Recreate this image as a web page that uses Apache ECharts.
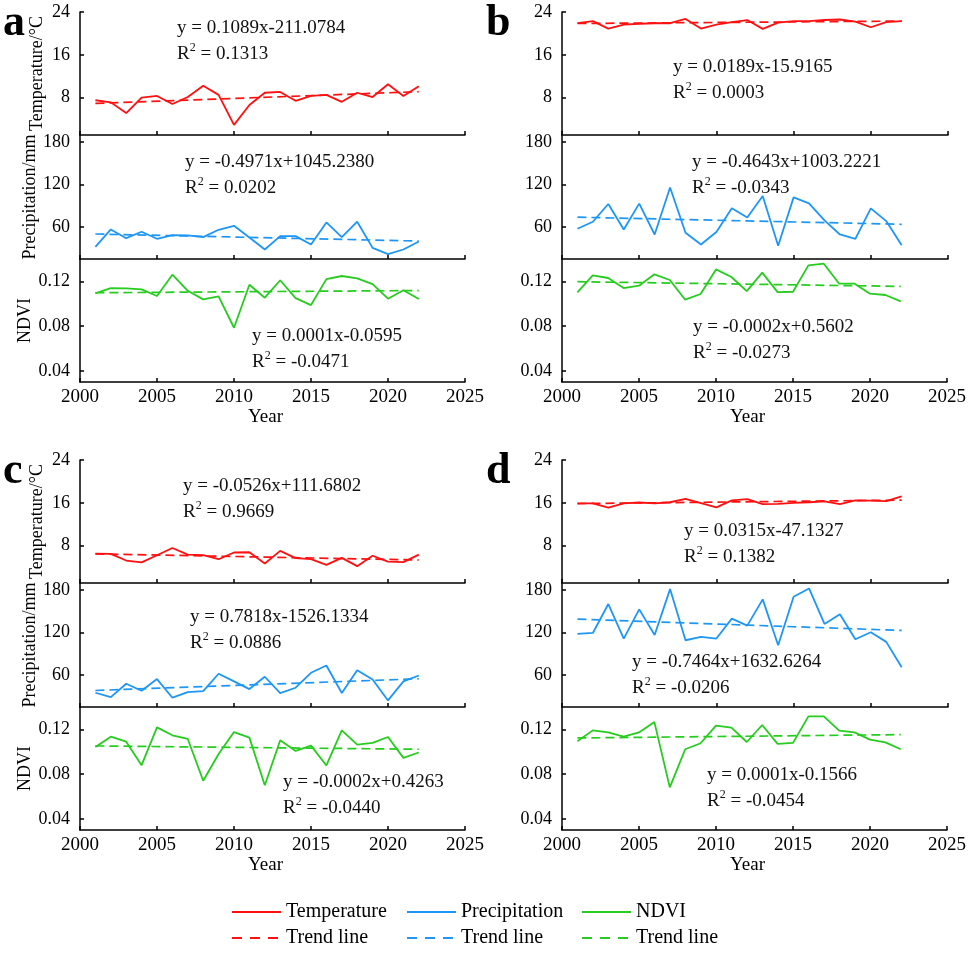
<!DOCTYPE html>
<html><head><meta charset="utf-8">
<script src="https://cdn.jsdelivr.net/npm/echarts@6/dist/echarts.min.js"></script>
<style>html,body{margin:0;padding:0;background:#fff}#c{width:969px;height:954px}</style>
</head><body><div id="c"></div>
<script>
// ---------- DATA ----------
const years = [2001,2002,2003,2004,2005,2006,2007,2008,2009,2010,2011,2012,2013,2014,2015,2016,2017,2018,2019,2020,2021,2022];
const trendYears = [2001, 2022];

const tempA = [7.5,7.1,5.1,8.0,8.3,6.8,8.1,10.2,8.5,2.9,6.6,8.9,9.05,7.4,8.3,8.5,7.2,8.9,8.1,10.5,8.3,10.1];
const precA = [32,56.7,44.4,53.4,43.5,48.7,48.2,45.8,56.2,61.9,45.4,28.4,47.3,47.3,35.5,66.6,45.8,67.6,30.7,21.8,28.4,39.7];
const ndviA = [0.1093,0.114,0.1137,0.1128,0.1069,0.126,0.1116,0.1039,0.1066,0.0785,0.117,0.1054,0.121,0.105,0.0988,0.122,0.1248,0.1227,0.1176,0.1045,0.112,0.1042];

const tempB = [21.9,22.3,20.9,21.65,21.8,21.9,21.9,22.7,20.9,21.65,22.1,22.5,20.85,22.0,22.3,22.3,22.5,22.6,22.2,21.15,22.1,22.3];
const precB = [57.7,67.6,92.6,56.7,93.1,49.6,115.8,52,35.5,53,86.5,73.7,104,33.6,102,93.6,69.5,49.6,43.5,86.5,68.5,34.5];
const ndviB = [0.1101,0.1254,0.123,0.114,0.1161,0.1263,0.1212,0.1036,0.1087,0.1307,0.1239,0.1113,0.1278,0.1104,0.1107,0.1343,0.1358,0.1179,0.1179,0.109,0.1078,0.1021];

const tempC = [6.5,6.45,5.2,4.85,6.2,7.55,6.3,6.2,5.45,6.7,6.75,4.65,7.0,5.65,5.45,4.4,5.7,4.15,6.1,5.0,4.9,6.3];
const precC = [35.1,29.0,47.8,38.0,54.4,28.1,36.1,37.5,61.9,51.1,40.3,57.7,34.7,42.2,63.3,73.6,34.7,67.0,53.9,24.3,51.1,59.5];
const ndviC = [0.1043,0.1135,0.109,0.088,0.1218,0.1147,0.1114,0.0741,0.098,0.1176,0.1126,0.070,0.1102,0.1007,0.1055,0.0877,0.1191,0.1064,0.1079,0.1132,0.0945,0.0993];

const tempD = [15.9,15.9,15.1,15.9,16.05,15.9,16.1,16.75,15.95,15.15,16.45,16.7,15.75,15.8,16.0,16.1,16.25,15.75,16.45,16.4,16.3,17.2];
const precD = [118.1,119.5,160.3,111.6,152.8,116.7,181.4,109.2,113.9,111.6,139.7,129.8,166.9,102.2,170.6,182.3,132.2,145.8,110.6,120.5,106.9,71.2];
const ndviD = [0.1093,0.1191,0.1173,0.1135,0.1173,0.1265,0.0681,0.1022,0.1076,0.1233,0.1215,0.1087,0.1239,0.107,0.1079,0.1316,0.1316,0.1188,0.1173,0.1108,0.1084,0.1022];

// trend line end values (2001, 2022)
const trendTempA = [6.9, 9.1],  trendPrecA = [50.3, 40.3],  trendNdviA = [0.1098, 0.1118];
const trendTempB = [21.85, 22.3], trendPrecB = [74.0, 64.0], trendNdviB = [0.1197, 0.1155];
const trendTempC = [6.45, 5.3], trendPrecC = [38.3, 54.9],  trendNdviC = [0.1052, 0.1022];
const trendTempD = [15.85, 16.5], trendPrecD = [139.0, 123.0], trendNdviD = [0.1123, 0.1153];

// equations [equation, R²]
const eqTempA = ['y = 0.1089x-211.0784', '0.1313'], eqPrecA = ['y = -0.4971x+1045.2380', '0.0202'], eqNdviA = ['y = 0.0001x-0.0595', '-0.0471'];
const eqTempB = ['y = 0.0189x-15.9165', '0.0003'],  eqPrecB = ['y = -0.4643x+1003.2221', '-0.0343'], eqNdviB = ['y = -0.0002x+0.5602', '-0.0273'];
const eqTempC = ['y = -0.0526x+111.6802', '0.9669'], eqPrecC = ['y = 0.7818x-1526.1334', '0.0886'], eqNdviC = ['y = -0.0002x+0.4263', '-0.0440'];
const eqTempD = ['y = 0.0315x-47.1327', '0.1382'],  eqPrecD = ['y = -0.7464x+1632.6264', '-0.0206'], eqNdviD = ['y = 0.0001x-0.1566', '-0.0454'];

const xTickValues = [2000, 2005, 2010, 2015, 2020, 2025];
const tempTicks = [8, 16, 24];
const precTicks = [60, 120, 180];
const ndviTicks = [0.04, 0.08, 0.12];
const legendNames = ['Temperature', 'Precipitation', 'NDVI'];
const trendName = 'Trend line';
const panelLetters = ['a', 'b', 'c', 'd'];

// ---------- STYLE / LAYOUT ----------
const FONT = '"Liberation Serif", "Times New Roman", serif';
const RED = '#FF1010', BLUE = '#1E96F5', GREEN = '#26CC1E';
const colors = [RED, BLUE, GREEN];

const panels = [
  { left: 80,  width: 385, top: 12,  titles: true,  d: [tempA, precA, ndviA], t: [trendTempA, trendPrecA, trendNdviA], eq: [eqTempA, eqPrecA, eqNdviA],
    eqPos: [[177, 28], [185, 162], [252, 336]], lab: [3, 2] },
  { left: 562, width: 386, top: 12,  titles: false, d: [tempB, precB, ndviB], t: [trendTempB, trendPrecB, trendNdviB], eq: [eqTempB, eqPrecB, eqNdviB],
    eqPos: [[673, 67], [692, 162], [693, 327]], lab: [486, 2] },
  { left: 80,  width: 385, top: 460, titles: true,  d: [tempC, precC, ndviC], t: [trendTempC, trendPrecC, trendNdviC], eq: [eqTempC, eqPrecC, eqNdviC],
    eqPos: [[183, 486], [190, 617], [283, 782]], lab: [3, 450] },
  { left: 562, width: 386, top: 460, titles: false, d: [tempD, precD, ndviD], t: [trendTempD, trendPrecD, trendNdviD], eq: [eqTempD, eqPrecD, eqNdviD],
    eqPos: [[684, 531], [632, 662], [707, 775]], lab: [486, 450] }
];
const subs = [
  { off: 0,   h: 123, min: 1,    max: 24,   ticks: tempTicks, name: 'Temperature/°C',  fmt: v => String(v) },
  { off: 123, h: 124, min: 15,   max: 190,  ticks: precTicks, name: 'Precipitation/mm', fmt: v => String(v) },
  { off: 247, h: 123, min: 0.03, max: 0.14, ticks: ndviTicks, name: 'NDVI',            fmt: v => v.toFixed(2) }
];

const grid = [], xAxis = [], yAxis = [], series = [], graphic = [];
const axisLineStyle = { color: '#000', width: 1.5 };
const tickStyle = { color: '#000', width: 1.5 };

panels.forEach((p, pi) => {
  subs.forEach((s, si) => {
    const gi = grid.length;
    grid.push({ left: p.left, width: p.width, top: p.top + s.off, height: s.h, containLabel: false });
    const bottom = si === 2;
    xAxis.push({
      gridIndex: gi, type: 'value', min: 2000, max: 2025,
      axisLine: { show: true, onZero: false, lineStyle: axisLineStyle },
      axisTick: { show: true, inside: true, length: 4, lineStyle: tickStyle, customValues: xTickValues },
      axisLabel: { show: bottom, customValues: xTickValues, formatter: v => String(v), color: '#000', fontFamily: FONT, fontSize: 19, margin: 6 },
      splitLine: { show: false },
      name: bottom ? 'Year' : '', nameLocation: 'middle', nameGap: 26,
      nameTextStyle: { color: '#000', fontFamily: FONT, fontSize: 19, padding: [0, 14, 0, 0] }
    });
    yAxis.push({
      gridIndex: gi, type: 'value', min: s.min, max: s.max,
      axisLine: { show: true, onZero: false, lineStyle: axisLineStyle },
      axisTick: { show: true, inside: true, length: 4, lineStyle: tickStyle, customValues: s.ticks },
      axisLabel: { customValues: s.ticks, formatter: s.fmt, color: '#000', fontFamily: FONT, fontSize: 18, margin: 10 },
      splitLine: { show: false },
      name: p.titles ? s.name : '', nameLocation: 'middle', nameRotate: 90, nameGap: 34,
      nameTextStyle: { color: '#000', fontFamily: FONT, fontSize: 18 }
    });
    series.push({
      type: 'line', name: trendName, xAxisIndex: gi, yAxisIndex: gi, symbol: 'none', silent: true,
      data: trendYears.map((y, i) => [y, p.t[si][i]]),
      lineStyle: { color: colors[si], width: 1.7, type: [9, 5] }, z: 2
    });
    series.push({
      type: 'line', name: legendNames[si], xAxisIndex: gi, yAxisIndex: gi, symbol: 'none', silent: true,
      data: years.map((y, i) => [y, p.d[si][i]]),
      lineStyle: { color: colors[si], width: 1.8 }, z: 3
    });
    // equation text
    const [ex, ey] = p.eqPos[si];
    graphic.push({ type: 'text', x: ex, y: ey, z: 10, style: {
      text: p.eq[si][0], font: '19px ' + FONT, fill: '#111', verticalAlign: 'middle', align: 'left' } });
    graphic.push({ type: 'text', x: ex, y: ey + 25, z: 10, style: {
      text: '{r|R}{s|2}{r| = ' + p.eq[si][1] + '}', verticalAlign: 'middle', align: 'left',
      rich: { r: { fontFamily: FONT, fontSize: 19, fill: '#111', lineHeight: 22, verticalAlign: 'bottom' },
              s: { fontFamily: FONT, fontSize: 12, fill: '#111', lineHeight: 12, verticalAlign: 'top' } } } });
  });
  graphic.push({ type: 'text', x: p.lab[0], y: p.lab[1], z: 10, style: {
    text: panelLetters[pi], font: 'bold 44px ' + FONT, fill: '#000', verticalAlign: 'top', align: 'left' } });
});

// legend (drawn)
const legX = [232, 407, 582];
const legRows = [912, 938];
legendNames.forEach((n, i) => {
  graphic.push({ type: 'line', shape: { x1: legX[i], y1: legRows[0], x2: legX[i] + 49, y2: legRows[0] },
    style: { stroke: colors[i], lineWidth: 1.8 } });
  graphic.push({ type: 'text', x: legX[i] + 54, y: legRows[0], style: { text: n, font: '20px ' + FONT, fill: '#000', verticalAlign: 'middle' } });
  graphic.push({ type: 'line', shape: { x1: legX[i], y1: legRows[1], x2: legX[i] + 49, y2: legRows[1] },
    style: { stroke: colors[i], lineWidth: 1.8, lineDash: [10, 8] } });
  graphic.push({ type: 'text', x: legX[i] + 54, y: legRows[1], style: { text: trendName, font: '20px ' + FONT, fill: '#000', verticalAlign: 'middle' } });
});

const chart = echarts.init(document.getElementById('c'), null, { renderer: 'canvas' });
chart.setOption({ animation: false, backgroundColor: '#fff', grid, xAxis, yAxis, series, graphic });
</script>
</body></html>
